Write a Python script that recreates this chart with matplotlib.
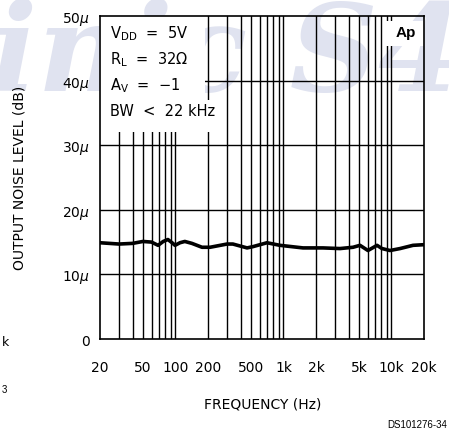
import matplotlib
matplotlib.use("Agg")
import matplotlib.pyplot as plt
from matplotlib.patches import Rectangle
import numpy as np

# Output noise vs. frequency (V_DD = 5V, R_L = 32 ohm, A_V = -1)
freq_hz = [20, 30, 40, 50, 60, 69, 77, 85, 93, 99, 110, 122, 142, 176, 209,
           300, 340, 460, 522, 703, 928, 1516, 2323, 3334, 4405, 5107, 6055,
           7347, 8166, 9686, 12000, 15820, 20000]
noise_uv = [14.9, 14.7, 14.8, 15.1, 15.0, 14.5, 15.1, 15.4, 14.9, 14.5, 14.9,
            15.1, 14.8, 14.2, 14.2, 14.7, 14.7, 14.1, 14.3, 14.9, 14.5, 14.1,
            14.1, 14.0, 14.2, 14.5, 13.7, 14.5, 14.0, 13.7, 14.0, 14.5, 14.6]

x_ticks = [20, 50, 100, 200, 500, 1000, 2000, 5000, 10000, 20000]
x_tick_labels = ["20", "50", "100", "200", "500", "1k", "2k", "5k", "10k", "20k"]
y_ticks = [0, 10, 20, 30, 40, 50]
y_tick_labels = ["0", r"10$\mu$", r"20$\mu$", r"30$\mu$", r"40$\mu$", r"50$\mu$"]

conditions = [r"V$_{\mathregular{DD}}$  =  5V", r"R$_{\mathregular{L}}$  =  32$\Omega$",
              r"A$_{\mathregular{V}}$  =  $-$1", "BW  <  22 kHz"]

plt.rcParams["font.family"] = ["DejaVu Sans"]
plt.rcParams["mathtext.fontset"] = "dejavusans"

fig = plt.figure(figsize=(4.49, 4.31), dpi=100)
fig.patch.set_facecolor("white")

# faint background watermark
fig.text(-0.02, 0.79, "inic S4", fontsize=88, family="DejaVu Serif",
         style="italic", weight="bold", color="#e0e3f0", zorder=-10)

ax = fig.add_axes([100 / 449, 1 - 340 / 431, 324 / 449, 323 / 431])
ax.set_facecolor("none")
ax.set_xscale("log")
ax.set_xlim(20, 20000)
ax.set_ylim(0, 50)

# grid lines at every minor decade step and every 10 uV
grid_x = [m * 10 ** d for d in range(1, 5) for m in range(1, 10)
          if 20 < m * 10 ** d < 20000]
for gx in grid_x:
    ax.axvline(gx, color="black", lw=1.0, zorder=1)
for gy in y_ticks[1:-1]:
    ax.axhline(gy, color="black", lw=1.0, zorder=1)

ax.plot(freq_hz, noise_uv, color="black", lw=2.6, solid_capstyle="round",
        solid_joinstyle="round", zorder=4)

ax.set_xticks(x_ticks)
ax.set_xticklabels(x_tick_labels)
ax.minorticks_off()
ax.set_yticks(y_ticks)
ax.set_yticklabels(y_tick_labels)
ax.tick_params(axis="both", length=0, labelsize=10)
ax.tick_params(axis="x", pad=15)
ax.tick_params(axis="y", pad=7)
for s in ax.spines.values():
    s.set_linewidth(1.2)
    s.set_zorder(5)

# white backgrounds behind the condition text and the corner tag
ax.add_patch(Rectangle((0, 0.74), 0.324, 0.26, transform=ax.transAxes,
                       facecolor="white", edgecolor="none", zorder=2))
ax.add_patch(Rectangle((0, 0.641), 0.377, 0.10, transform=ax.transAxes,
                       facecolor="white", edgecolor="none", zorder=2))
ax.add_patch(Rectangle((0.88, 0.907), 0.12, 0.078, transform=ax.transAxes,
                       facecolor="white", edgecolor="none", zorder=2))

for i, line in enumerate(conditions):
    ax.text(0.031, 0.95 - i * 0.081, line, transform=ax.transAxes,
            fontsize=10.5, va="center", ha="left", zorder=3)

ax.text(0.945, 0.95, "Ap", transform=ax.transAxes, fontsize=11,
        weight="bold", family="Liberation Sans", ha="center", va="center",
        zorder=3)

fig.text(20 / 449, 1 - 178 / 431, "OUTPUT NOISE LEVEL (dB)", rotation=90,
         ha="center", va="center", fontsize=10)
fig.text(263 / 449, 1 - 405 / 431, "FREQUENCY (Hz)", ha="center",
         va="center", fontsize=10)
fig.text(447 / 449, 1 - 428 / 431, "DS101276-34", ha="right",
         va="baseline", fontsize=7, family="Liberation Sans")

# fragments of the neighbouring chart
fig.text(2 / 449, 1 - 343 / 431, "k", ha="left", va="center", fontsize=9)
fig.text(2 / 449, 1 - 390 / 431, "3", ha="left", va="center", fontsize=7,
         family="Liberation Sans")

fig.savefig("out.png", dpi=100)
